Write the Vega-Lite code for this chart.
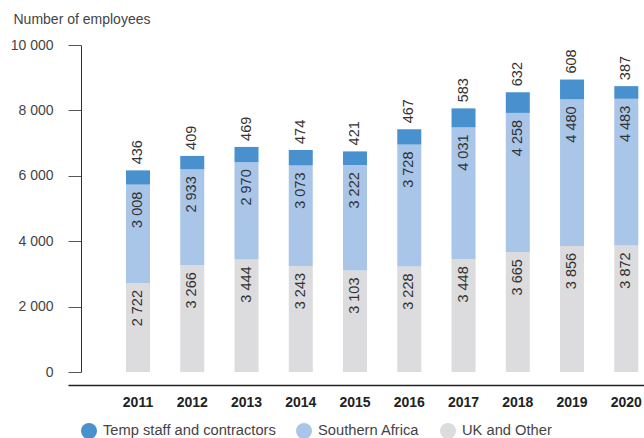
{
  "$schema": "https://vega.github.io/schema/vega-lite/v6.json",
  "width": 576,
  "height": 327,
  "autosize": {"type": "none"},
  "padding": {"left": 68, "top": 45, "right": 0, "bottom": 66},
  "config": {
    "view": {"stroke": null},
    "font": "Liberation Sans",
    "locale": {"number": {"decimal": ".", "thousands": " ", "grouping": [3], "currency": ["", ""]}}
  },
  "data": {
    "values": [
      {"year": "2011", "series": "UK and Other", "value": 2722},
      {"year": "2011", "series": "Southern Africa", "value": 3008},
      {"year": "2011", "series": "Temp staff and contractors", "value": 436},
      {"year": "2012", "series": "UK and Other", "value": 3266},
      {"year": "2012", "series": "Southern Africa", "value": 2933},
      {"year": "2012", "series": "Temp staff and contractors", "value": 409},
      {"year": "2013", "series": "UK and Other", "value": 3444},
      {"year": "2013", "series": "Southern Africa", "value": 2970},
      {"year": "2013", "series": "Temp staff and contractors", "value": 469},
      {"year": "2014", "series": "UK and Other", "value": 3243},
      {"year": "2014", "series": "Southern Africa", "value": 3073},
      {"year": "2014", "series": "Temp staff and contractors", "value": 474},
      {"year": "2015", "series": "UK and Other", "value": 3103},
      {"year": "2015", "series": "Southern Africa", "value": 3222},
      {"year": "2015", "series": "Temp staff and contractors", "value": 421},
      {"year": "2016", "series": "UK and Other", "value": 3228},
      {"year": "2016", "series": "Southern Africa", "value": 3728},
      {"year": "2016", "series": "Temp staff and contractors", "value": 467},
      {"year": "2017", "series": "UK and Other", "value": 3448},
      {"year": "2017", "series": "Southern Africa", "value": 4031},
      {"year": "2017", "series": "Temp staff and contractors", "value": 583},
      {"year": "2018", "series": "UK and Other", "value": 3665},
      {"year": "2018", "series": "Southern Africa", "value": 4258},
      {"year": "2018", "series": "Temp staff and contractors", "value": 632},
      {"year": "2019", "series": "UK and Other", "value": 3856},
      {"year": "2019", "series": "Southern Africa", "value": 4480},
      {"year": "2019", "series": "Temp staff and contractors", "value": 608},
      {"year": "2020", "series": "UK and Other", "value": 3872},
      {"year": "2020", "series": "Southern Africa", "value": 4483},
      {"year": "2020", "series": "Temp staff and contractors", "value": 387}
    ]
  },
  "transform": [
    {"stack": "value", "groupby": ["year"], "as": ["v0", "v1"]}
  ],
  "encoding": {
    "x": {
      "field": "year",
      "type": "ordinal",
      "scale": {"paddingInner": 0.5576, "paddingOuter": 0.587, "align": 0.9105},
      "axis": {
        "title": null,
        "orient": "bottom",
        "offset": 13,
        "ticks": false,
        "labelAngle": 0,
        "labelFontWeight": "bold",
        "labelFontSize": 14,
        "labelColor": "#222222",
        "labelPadding": 10,
        "domainColor": "#222222",
        "domainWidth": 1.5
      }
    }
  },
  "layer": [
    {
      "mark": {"type": "bar"},
      "encoding": {
        "y": {
          "field": "v1",
          "type": "quantitative",
          "scale": {"domain": [0, 10000], "nice": false},
          "axis": {
            "values": [0, 2000, 4000, 6000, 8000, 10000],
            "format": ",d",
            "grid": false,
            "offset": -13,
            "tickSize": 13,
            "tickColor": "#555555",
            "domainColor": "#333333",
            "labelPadding": 15,
            "labelFontSize": 14,
            "labelColor": "#444444",
            "title": "Number of employees",
            "titleAngle": 0,
            "titleAlign": "left",
            "titleBaseline": "alphabetic",
            "titleX": -68,
            "titleY": -22,
            "titleFontSize": 14,
            "titleFontWeight": "normal",
            "titleColor": "#444444"
          }
        },
        "y2": {"field": "v0"},
        "color": {
          "field": "series",
          "type": "nominal",
          "scale": {
            "domain": ["Temp staff and contractors", "Southern Africa", "UK and Other"],
            "range": ["#4890CE", "#A9C6E9", "#DCDCDE"]
          },
          "legend": {
            "orient": "none",
            "legendX": 13,
            "legendY": 378,
            "direction": "horizontal",
            "title": null,
            "padding": 0,
            "symbolType": "circle",
            "symbolSize": 256,
            "symbolStrokeWidth": 0,
            "symbolOpacity": 1,
            "labelFontSize": 14.7,
            "labelColor": "#444444",
            "labelOffset": 6,
            "labelLimit": 400,
            "columnPadding": 20
          }
        }
      }
    },
    {
      "transform": [{"filter": "datum.series === 'Temp staff and contractors'"}],
      "mark": {"type": "text", "angle": 270, "align": "left", "baseline": "middle", "dx": 6, "fontSize": 14.5, "color": "#333333"},
      "encoding": {
        "y": {"field": "v1", "type": "quantitative"},
        "text": {"field": "value", "type": "quantitative", "format": ",d"}
      }
    },
    {
      "transform": [{"filter": "datum.series !== 'Temp staff and contractors'"}],
      "mark": {"type": "text", "angle": 270, "align": "right", "baseline": "middle", "dx": -7, "fontSize": 14.5, "color": "#333333"},
      "encoding": {
        "y": {"field": "v1", "type": "quantitative"},
        "text": {"field": "value", "type": "quantitative", "format": ",d"}
      }
    }
  ]
}
